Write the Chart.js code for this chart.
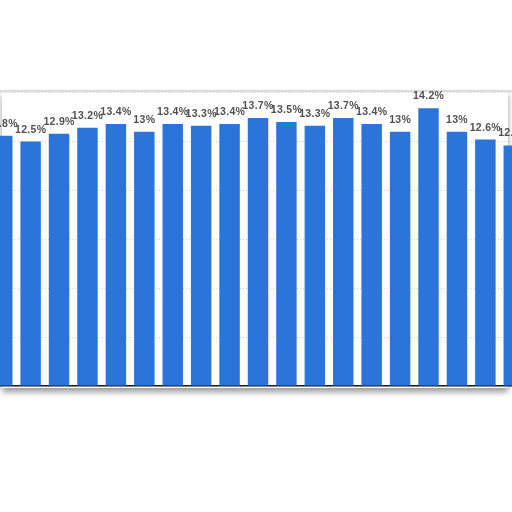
<!DOCTYPE html>
<html>
<head>
<meta charset="utf-8">
<script src="https://cdn.jsdelivr.net/npm/chart.js@4/dist/chart.umd.min.js"></script>
<style>
  html, body { margin: 0; padding: 0; width: 512px; height: 512px; overflow: hidden; background: #fff; }
  #wrap { position: absolute; left: -12px; top: 0; width: 540px; height: 512px; }
</style>
</head>
<body>
<div id="wrap"><canvas id="c"></canvas></div>
<script>
const categories = ['1','2','3','4','5','6','7','8','9','10','11','12','13','14','15','16','17','18','19'];
const values = [12.8, 12.5, 12.9, 13.2, 13.4, 13, 13.4, 13.3, 13.4, 13.7, 13.5, 13.3, 13.7, 13.4, 13, 14.2, 13, 12.6, 12.3];
const yMin = 0, yMax = 15, yStep = 2.5;

const paperPlugin = {
  id: 'paper',
  beforeDraw(chart) {
    const ctx = chart.ctx;
    const a = chart.chartArea;
    ctx.save();
    ctx.fillStyle = '#fff';
    ctx.fillRect(0, 0, chart.width, chart.height);
    // paper sheet with soft shadow
    ctx.shadowColor = 'rgba(0,0,0,0.4)';
    ctx.shadowBlur = 6;
    ctx.shadowOffsetY = 4;
    ctx.fillStyle = '#fff';
    ctx.fillRect(14, a.top - 2, 506, a.bottom - a.top + 4);
    ctx.restore();
    ctx.save();
    ctx.strokeStyle = '#d0d0d0';
    ctx.lineWidth = 1.5;
    ctx.beginPath();
    ctx.moveTo(12, a.top - 1.5);
    ctx.lineTo(524, a.top - 1.5);
    ctx.stroke();
    ctx.restore();
  }
};

const labelPlugin = {
  id: 'valueLabels',
  afterDatasetsDraw(chart) {
    const ctx = chart.ctx;
    const meta = chart.getDatasetMeta(0);
    ctx.save();
    ctx.font = 'bold 10.5px "Liberation Sans", Arial, sans-serif';
    ctx.letterSpacing = '0.3px';
    ctx.fillStyle = '#505050';
    ctx.textAlign = 'center';
    ctx.textBaseline = 'alphabetic';
    meta.data.forEach((bar, i) => {
      ctx.fillText(values[i] + '%', bar.x, bar.y - 9);
    });
    ctx.restore();
  }
};

new Chart(document.getElementById('c'), {
  type: 'bar',
  data: {
    labels: categories,
    datasets: [{
      data: values,
      backgroundColor: '#2b75da',
      borderWidth: 0,
      categoryPercentage: 0.8,
      barPercentage: 0.9
    }]
  },
  options: {
    responsive: true,
    maintainAspectRatio: false,
    animation: false,
    layout: { padding: { top: 92.6, bottom: 126, left: 0, right: 0 } },
    plugins: { legend: { display: false }, tooltip: { enabled: false } },
    scales: {
      x: {
        ticks: { display: false },
        grid: { display: false, drawTicks: false },
        border: { display: true, color: '#1a1a1a', width: 1.5 }
      },
      y: {
        min: yMin, max: yMax,
        ticks: { display: false, stepSize: yStep },
        grid: { color: '#cfcfcf', lineWidth: 1, drawTicks: false, tickLength: 0 },
        border: { display: false, dash: [1, 2] }
      }
    }
  },
  plugins: [paperPlugin, labelPlugin]
});
</script>
</body>
</html>
